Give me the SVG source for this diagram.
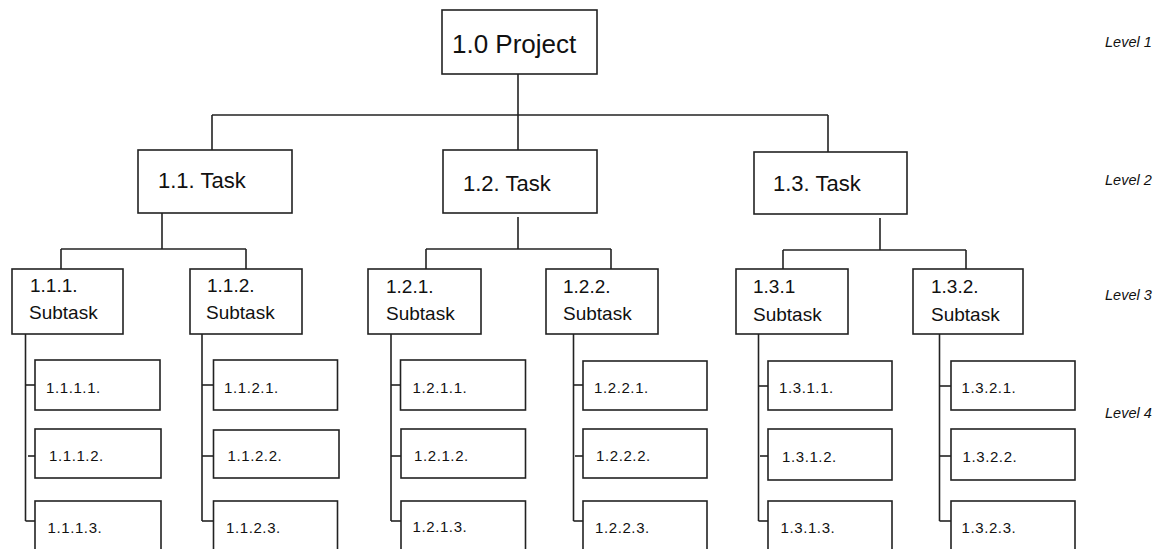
<svg xmlns="http://www.w3.org/2000/svg" width="1162" height="549" viewBox="0 0 1162 549">
<style>
rect{fill:#fff;stroke:#222;stroke-width:1.6}
line{stroke:#222;stroke-width:1.6}
text{font-family:"Liberation Sans",Arial,sans-serif;fill:#111}
.l1{font-size:26px}
.l2{font-size:22px}
.l3{font-size:19px}
.l4{font-size:15px;letter-spacing:0.6px}
.lv{font-size:14.5px;font-style:italic}
</style>
<rect x="0" y="0" width="1162" height="549" style="fill:#fff;stroke:none"/>
<g id="connectors">
<line x1="518" y1="74" x2="518" y2="150"/>
<line x1="212" y1="115" x2="828" y2="115"/>
<line x1="212" y1="115" x2="212" y2="150"/>
<line x1="828" y1="115" x2="828" y2="152"/>
<line x1="162" y1="213" x2="162" y2="249"/>
<line x1="61" y1="249" x2="246" y2="249"/>
<line x1="61" y1="249" x2="61" y2="269"/>
<line x1="246" y1="249" x2="246" y2="269"/>
<line x1="518" y1="217" x2="518" y2="249"/>
<line x1="426" y1="249" x2="611" y2="249"/>
<line x1="426" y1="249" x2="426" y2="269"/>
<line x1="611" y1="249" x2="611" y2="269"/>
<line x1="880" y1="218" x2="880" y2="250"/>
<line x1="783" y1="250" x2="966" y2="250"/>
<line x1="783" y1="250" x2="783" y2="269"/>
<line x1="966" y1="250" x2="966" y2="269"/>
<line x1="25.5" y1="334" x2="25.5" y2="521"/>
<line x1="25.5" y1="385" x2="35" y2="385"/>
<line x1="28" y1="456" x2="35" y2="456"/>
<line x1="25.5" y1="521" x2="35" y2="521"/>
<line x1="202" y1="334" x2="202" y2="521"/>
<line x1="202" y1="385" x2="213.5" y2="385"/>
<line x1="202" y1="456" x2="213.5" y2="456"/>
<line x1="202" y1="521" x2="213.5" y2="521"/>
<line x1="391" y1="334" x2="391" y2="521"/>
<line x1="391" y1="385" x2="400.5" y2="385"/>
<line x1="391" y1="456" x2="401" y2="456"/>
<line x1="391" y1="521" x2="401" y2="521"/>
<line x1="573.5" y1="334" x2="573.5" y2="521"/>
<line x1="573.5" y1="385" x2="583" y2="385"/>
<line x1="575" y1="456" x2="583" y2="456"/>
<line x1="573.5" y1="521" x2="583" y2="521"/>
<line x1="758.5" y1="334" x2="758.5" y2="521"/>
<line x1="758.5" y1="386" x2="768" y2="386"/>
<line x1="760" y1="456" x2="768" y2="456"/>
<line x1="758.5" y1="521" x2="768" y2="521"/>
<line x1="939.5" y1="334" x2="939.5" y2="521"/>
<line x1="939.5" y1="386" x2="951" y2="386"/>
<line x1="939.5" y1="456" x2="951" y2="456"/>
<line x1="939.5" y1="521" x2="951" y2="521"/>
</g>
<g id="n1-0"><rect x="442" y="10" width="155" height="64"/><text class="l1" x="452" y="53">1.0 Project</text></g>
<g id="n1-1"><rect x="138" y="150" width="154" height="63"/><text class="l2" x="158" y="188">1.1. Task</text></g>
<g id="n1-2"><rect x="443" y="150" width="154" height="63"/><text class="l2" x="463" y="191">1.2. Task</text></g>
<g id="n1-3"><rect x="754" y="152" width="153" height="62"/><text class="l2" x="773" y="191">1.3. Task</text></g>
<g id="n1-1-1"><rect x="12" y="269" width="111" height="65"/><text class="l3" x="30" y="292">1.1.1.</text><text class="l3" x="29" y="319">Subtask</text></g>
<g id="n1-1-2"><rect x="190" y="269" width="112" height="65"/><text class="l3" x="207" y="292">1.1.2.</text><text class="l3" x="206" y="319">Subtask</text></g>
<g id="n1-2-1"><rect x="368" y="269" width="113" height="65"/><text class="l3" x="386" y="293">1.2.1.</text><text class="l3" x="386" y="320">Subtask</text></g>
<g id="n1-2-2"><rect x="546" y="269" width="112" height="65"/><text class="l3" x="563" y="293">1.2.2.</text><text class="l3" x="563" y="320">Subtask</text></g>
<g id="n1-3-1"><rect x="736" y="269" width="112" height="65"/><text class="l3" x="753" y="293">1.3.1</text><text class="l3" x="753" y="321">Subtask</text></g>
<g id="n1-3-2"><rect x="913" y="269" width="110" height="65"/><text class="l3" x="931" y="293">1.3.2.</text><text class="l3" x="931" y="321">Subtask</text></g>
<g id="n1-1-1-1"><rect x="35" y="360" width="125" height="50"/><text class="l4" x="46" y="393">1.1.1.1.</text></g>
<g id="n1-1-1-2"><rect x="35" y="429" width="126" height="49"/><text class="l4" x="49" y="461">1.1.1.2.</text></g>
<g id="n1-1-1-3"><rect x="35" y="501" width="126" height="60"/><text class="l4" x="47.5" y="533">1.1.1.3.</text></g>
<g id="n1-1-2-1"><rect x="213.5" y="360" width="124" height="50"/><text class="l4" x="224" y="393">1.1.2.1.</text></g>
<g id="n1-1-2-2"><rect x="213.5" y="430" width="125.5" height="48"/><text class="l4" x="227.5" y="461">1.1.2.2.</text></g>
<g id="n1-1-2-3"><rect x="213.5" y="501" width="124" height="60"/><text class="l4" x="226" y="533">1.1.2.3.</text></g>
<g id="n1-2-1-1"><rect x="400.5" y="360" width="125" height="50"/><text class="l4" x="412.5" y="393">1.2.1.1.</text></g>
<g id="n1-2-1-2"><rect x="401" y="429" width="124.5" height="49"/><text class="l4" x="414" y="461">1.2.1.2.</text></g>
<g id="n1-2-1-3"><rect x="401" y="501" width="124.5" height="60"/><text class="l4" x="412.5" y="532">1.2.1.3.</text></g>
<g id="n1-2-2-1"><rect x="583" y="361" width="124" height="49"/><text class="l4" x="594" y="393">1.2.2.1.</text></g>
<g id="n1-2-2-2"><rect x="583" y="429" width="124" height="49"/><text class="l4" x="596" y="461">1.2.2.2.</text></g>
<g id="n1-2-2-3"><rect x="583" y="501" width="124" height="60"/><text class="l4" x="595" y="533">1.2.2.3.</text></g>
<g id="n1-3-1-1"><rect x="768" y="361" width="124" height="49"/><text class="l4" x="779" y="393">1.3.1.1.</text></g>
<g id="n1-3-1-2"><rect x="768" y="429" width="124" height="51"/><text class="l4" x="782" y="462">1.3.1.2.</text></g>
<g id="n1-3-1-3"><rect x="768" y="501" width="124" height="60"/><text class="l4" x="780.5" y="533">1.3.1.3.</text></g>
<g id="n1-3-2-1"><rect x="951" y="361" width="124" height="49"/><text class="l4" x="961.5" y="393">1.3.2.1.</text></g>
<g id="n1-3-2-2"><rect x="951" y="429" width="124" height="51"/><text class="l4" x="962.5" y="462">1.3.2.2.</text></g>
<g id="n1-3-2-3"><rect x="951" y="501" width="124" height="60"/><text class="l4" x="961.5" y="533">1.3.2.3.</text></g>
<g id="levels">
<text class="lv" x="1105" y="47">Level 1</text>
<text class="lv" x="1105" y="185">Level 2</text>
<text class="lv" x="1105" y="300">Level 3</text>
<text class="lv" x="1105" y="418">Level 4</text>
</g>
</svg>
